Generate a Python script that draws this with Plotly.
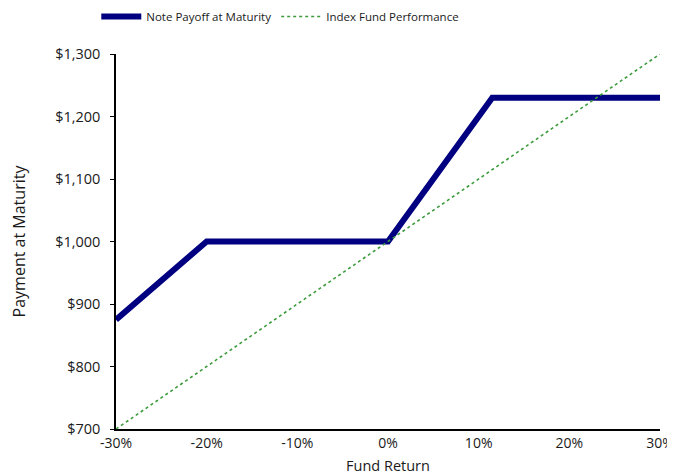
import plotly.graph_objects as go

note_x = [-30, -20, 0, 11.5, 30]
note_y = [875, 1000, 1000, 1230, 1230]
index_x = [-30, 30]
index_y = [700, 1300]

x_ticks = [-30, -20, -10, 0, 10, 20, 30]
x_labels = ["-30%", "-20%", "-10%", "0%", "10%", "20%", "30%"]
y_ticks = [700, 800, 900, 1000, 1100, 1200, 1300]
y_labels = ["$700", "$800", "$900", "$1,000", "$1,100", "$1,200", "$1,300"]

font = "Open Sans, DejaVu Sans, sans-serif"

fig = go.Figure()
fig.add_trace(go.Scatter(x=note_x, y=note_y, mode="lines", name="Note Payoff at Maturity",
                         line=dict(color="#000080", width=6), cliponaxis=False))
fig.add_trace(go.Scatter(x=index_x, y=index_y, mode="lines", name="Index Fund Performance",
                         line=dict(color="#3c9c3c", width=1.6, dash="dot"), cliponaxis=False))

fig.update_layout(
    width=675, height=476,
    margin=dict(l=108, r=23, t=46, b=55, autoexpand=False),
    paper_bgcolor="white", plot_bgcolor="white",
    font=dict(family=font, size=14, color="#1a1a1a"),
    showlegend=True,
    legend=dict(orientation="h", x=0.302, xanchor="center", y=1.1, yanchor="middle",
                font=dict(size=11.5), itemwidth=40),
    xaxis=dict(range=[-30, 30], tickvals=x_ticks, ticktext=x_labels, showgrid=False,
               zeroline=False, showline=True, linecolor="black", linewidth=1.5,
               ticks="", automargin=False, tickfont=dict(size=14),
               title=dict(text="Fund Return", standoff=10, font=dict(size=14.5))),
    yaxis=dict(range=[700, 1300], tickvals=y_ticks, ticktext=y_labels, showgrid=False,
               zeroline=False, showline=True, linecolor="black", linewidth=1.5,
               ticks="outside", ticklen=4, tickcolor="black", automargin=False,
               tickfont=dict(size=14.5), ticklabelstandoff=7,
               title=dict(text="Payment at Maturity", standoff=28, font=dict(size=16))),
)
fig.write_html("out.html")
